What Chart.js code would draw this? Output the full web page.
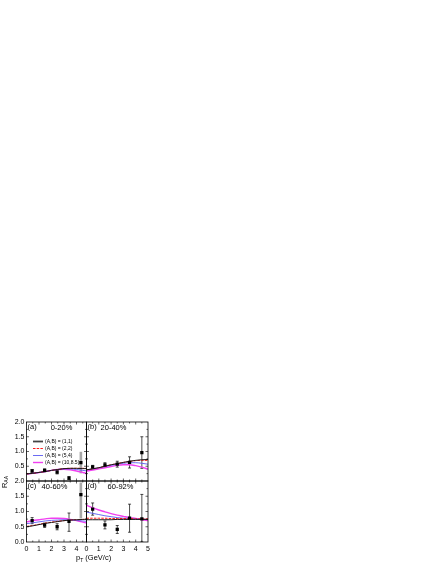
<!DOCTYPE html>
<html>
<head>
<meta charset="utf-8">
<script src="https://cdn.jsdelivr.net/npm/chart.js@4.4.1/dist/chart.umd.min.js"></script>
<style>
  body { margin: 0; background: #fff; width: 436px; height: 564px; overflow: hidden; position: relative; font-family: "Liberation Sans", Arial, sans-serif; }
  #wrap { position: absolute; left: 0; top: 414px; width: 160px; height: 150px; }
  #wrap canvas { position: absolute; left: 0; top: 0; }
  .ttl { position: absolute; font-size: 7.5px; color: #000; white-space: nowrap; line-height: 1; }
  .ttl sub { font-size: 5px; vertical-align: -1.5px; }
  #ytitle { left: 4.5px; top: 482px; transform: translate(-50%, -50%) rotate(-90deg); }
  #xtitle { left: 76px; top: 554px; }
</style>
</head>
<body>
<div id="wrap">
  <canvas id="pa" width="160" height="150"></canvas>
  <canvas id="pb" width="160" height="150"></canvas>
  <canvas id="pc" width="160" height="150"></canvas>
  <canvas id="pd" width="160" height="150"></canvas>
</div>
<div class="ttl" id="ytitle">R<sub>AA</sub></div>
<div class="ttl" id="xtitle">p<sub>T</sub> (GeV/c)</div>

<script>
// 曲线的横坐标 (GeV/c)
const curveX = [0, 0.5, 1, 1.5, 2, 2.5, 3, 3.5, 4, 4.5, 5];
const legendLabels = ['(A,B) = (1,1)', '(A,B) = (2,2)', '(A,B) = (5,4)', '(A,B) = (10,8.5)'];

// (a) 0-20%
const aCurve11  = [0.24, 0.26, 0.29, 0.32, 0.36, 0.39, 0.42, 0.43, 0.43, 0.42, 0.42];
const aCurve22  = [0.24, 0.26, 0.29, 0.32, 0.36, 0.39, 0.42, 0.43, 0.43, 0.43, 0.43];
const aCurve54  = [0.24, 0.26, 0.29, 0.32, 0.36, 0.39, 0.41, 0.41, 0.39, 0.36, 0.33];
const aCurve108 = [0.24, 0.26, 0.29, 0.32, 0.36, 0.39, 0.40, 0.38, 0.34, 0.29, 0.24];
const aPtX  = [0.45, 1.45, 2.45, 3.4, 4.35];
const aPtY  = [0.34, 0.36, 0.30, 0.10, 0.62];
const aErrHi = [0.05, 0.05, 0.06, 0.05, 0.37];
const aErrLo = [0.05, 0.05, 0.06, 0.05, 0.36];

// (b) 20-40%
const bCurve11  = [0.38, 0.41, 0.45, 0.50, 0.55, 0.59, 0.63, 0.67, 0.70, 0.72, 0.73];
const bCurve22  = [0.38, 0.41, 0.45, 0.50, 0.55, 0.59, 0.63, 0.66, 0.69, 0.70, 0.70];
const bCurve54  = [0.38, 0.41, 0.45, 0.49, 0.53, 0.57, 0.60, 0.62, 0.62, 0.60, 0.57];
const bCurve108 = [0.34, 0.37, 0.41, 0.45, 0.49, 0.53, 0.55, 0.55, 0.52, 0.47, 0.40];
const bPtX  = [0.5, 1.5, 2.5, 3.5, 4.5];
const bPtY  = [0.48, 0.55, 0.57, 0.63, 0.96];
const bErrHi = [0.05, 0.07, 0.10, 0.19, 0.54];
const bErrLo = [0.05, 0.07, 0.10, 0.19, 0.53];

// (c) 40-60%
const cCurve11  = [0.50, 0.53, 0.57, 0.61, 0.64, 0.67, 0.70, 0.72, 0.73, 0.74, 0.75];
const cCurve22  = [0.51, 0.54, 0.58, 0.62, 0.65, 0.68, 0.70, 0.72, 0.73, 0.74, 0.75];
const cCurve54  = [0.60, 0.63, 0.66, 0.69, 0.71, 0.72, 0.73, 0.72, 0.71, 0.69, 0.67];
const cCurve108 = [0.66, 0.70, 0.73, 0.76, 0.78, 0.78, 0.77, 0.74, 0.70, 0.65, 0.60];
const cPtX  = [0.45, 1.45, 2.45, 3.4, 4.35];
const cPtY  = [0.70, 0.55, 0.50, 0.68, 1.55];
const cErrHi = [0.10, 0.07, 0.10, 0.27, 0.40];
const cErrLo = [0.10, 0.07, 0.10, 0.33, 0.78];

// (d) 60-92%
const dCurve11  = [0.73, 0.73, 0.73, 0.73, 0.73, 0.74, 0.74, 0.74, 0.74, 0.74, 0.74];
const dCurve22  = [0.78, 0.78, 0.78, 0.78, 0.77, 0.77, 0.77, 0.77, 0.76, 0.76, 0.76];
const dCurve54  = [0.98, 0.94, 0.90, 0.86, 0.83, 0.80, 0.78, 0.77, 0.76, 0.75, 0.74];
const dCurve108 = [1.20, 1.12, 1.05, 0.99, 0.93, 0.88, 0.84, 0.80, 0.77, 0.73, 0.70];
const dPtX  = [0.5, 1.5, 2.5, 3.5, 4.5];
const dPtY  = [1.08, 0.56, 0.41, 0.78, 0.76];
const dErrHi = [0.20, 0.13, 0.13, 0.46, 0.80];
const dErrLo = [0.20, 0.13, 0.13, 0.46, 0.76];

// 线型
const FONT = '"Liberation Sans", Arial, sans-serif';
const lineColors = ['#1c1c1c', '#ff1a1a', '#5a5af2', '#f040f0'];
const lineWidths = [1.0, 1.0, 0.9, 1.4];
const lineDashes = [[], [2.5, 1.2], [], []];

// 误差棒、边框、刻度、标签
const panelDeco = {
  id: 'panelDeco',
  beforeDatasetsDraw(chart) {
    const ctx = chart.ctx, area = chart.chartArea;
    const xs = chart.scales.x, ys = chart.scales.y;
    const ds = chart.data.datasets[0];
    ctx.save();
    ctx.beginPath();
    ctx.rect(area.left, area.top, area.right - area.left, area.bottom - area.top);
    ctx.clip();
    ds.data.forEach((pt, i) => {
      const px = xs.getPixelForValue(pt.x);
      const top = ys.getPixelForValue(pt.y + ds.errHi[i]);
      const bot = ys.getPixelForValue(pt.y - ds.errLo[i]);
      if (i === ds.greyIdx) {
        ctx.fillStyle = '#a8a8a8';
        ctx.fillRect(px - 1.3, top, 2.6, bot - top);
      } else {
        ctx.strokeStyle = '#000';
        ctx.lineWidth = 0.7;
        ctx.beginPath();
        ctx.moveTo(px, top); ctx.lineTo(px, bot);
        ctx.moveTo(px - 1.5, top); ctx.lineTo(px + 1.5, top);
        ctx.moveTo(px - 1.5, bot); ctx.lineTo(px + 1.5, bot);
        ctx.stroke();
      }
    });
    ctx.restore();
  },
  afterDraw(chart) {
    const opts = chart.options.plugins.panelDeco;
    const ctx = chart.ctx, a = chart.chartArea;
    const xs = chart.scales.x, ys = chart.scales.y;
    ctx.save();
    ctx.strokeStyle = '#000';
    ctx.lineWidth = 0.8;
    ctx.strokeRect(a.left, a.top, a.right - a.left, a.bottom - a.top);
    ctx.lineWidth = 0.6;
    ctx.beginPath();
    for (let v = 0.5; v < xs.max - 0.01; v += 0.5) {
      const px = xs.getPixelForValue(v);
      const len = Math.abs(v % 1) < 1e-6 ? 2.5 : 1.5;
      ctx.moveTo(px, a.bottom); ctx.lineTo(px, a.bottom - len);
      ctx.moveTo(px, a.top); ctx.lineTo(px, a.top + len);
    }
    for (let v = 0.25; v < ys.max - 0.01; v += 0.25) {
      const py = ys.getPixelForValue(v);
      const len = Math.abs(v % 0.5) < 1e-6 ? 2.5 : 1.5;
      ctx.moveTo(a.left, py); ctx.lineTo(a.left + len, py);
      ctx.moveTo(a.right, py); ctx.lineTo(a.right - len, py);
    }
    ctx.stroke();

    ctx.fillStyle = '#000';
    ctx.textBaseline = 'middle';
    ctx.font = '7.5px ' + FONT;
    ctx.textAlign = 'left';
    ctx.fillText(opts.tag, a.left + 1, a.top + 4.5);
    ctx.textAlign = 'center';
    ctx.fillText(opts.cent, a.left + opts.centX, a.top + 6);

    if (opts.legend) {
      ctx.textAlign = 'left';
      ctx.font = '5px ' + FONT;
      legendLabels.forEach((txt, i) => {
        const y = Math.round(a.top + 18.5 + i * 7) + 0.5;
        ctx.strokeStyle = i === 0 ? '#444' : lineColors[i];
        ctx.lineWidth = lineWidths[i] + (i === 0 ? 0.8 : 0);
        ctx.setLineDash(lineDashes[i]);
        ctx.beginPath();
        ctx.moveTo(a.left + 6.5, y); ctx.lineTo(a.left + 16.5, y);
        ctx.stroke();
        ctx.setLineDash([]);
        ctx.fillStyle = '#000';
        ctx.fillText(txt, a.left + 18.5, y);
      });
    }
    ctx.restore();
  }
};

function makePanel(id, p) {
  const datasets = [{
    data: p.ptX.map((x, i) => ({ x, y: p.ptY[i] })),
    errHi: p.errHi, errLo: p.errLo, greyIdx: p.greyIdx,
    showLine: false,
    pointStyle: 'rect',
    pointRadius: 2.3,
    pointBackgroundColor: '#000',
    pointBorderWidth: 0
  }];
  p.curves.forEach((ys, i) => {
    datasets.push({
      data: ys.map((y, k) => ({ x: curveX[k], y })),
      borderColor: lineColors[i],
      borderWidth: lineWidths[i],
      borderDash: lineDashes[i],
      pointRadius: 0,
      cubicInterpolationMode: 'monotone',
      fill: false
    });
  });

  const tickFont = { size: 7, family: FONT };
  const xScale = {
    type: 'linear', min: 0, max: p.xMax, display: p.showX,
    grid: { display: false, drawTicks: false }, border: { display: false },
    ticks: {
      stepSize: 1, autoSkip: false, maxRotation: 0, includeBounds: false,
      padding: 3, color: '#000', font: tickFont,
      callback: v => (Number.isInteger(v) && v <= 5) ? String(v) : ''
    }
  };
  if (p.showX) xScale.afterFit = s => { s.height = 12; };
  const yScale = {
    type: 'linear', min: 0, max: 2, display: p.showY,
    grid: { display: false, drawTicks: false }, border: { display: false },
    ticks: {
      stepSize: 0.5, autoSkip: false, padding: 2, color: '#000', font: tickFont,
      callback: v => (p.hideZero && v === 0) ? '' : v.toFixed(1)
    }
  };
  if (p.showY) yScale.afterFit = s => { s.width = 26.5; };

  new Chart(document.getElementById(id), {
    type: 'line',
    data: { datasets },
    options: {
      responsive: false,
      animation: false,
      events: [],
      layout: { padding: p.pad },
      plugins: {
        legend: { display: false },
        tooltip: { enabled: false },
        panelDeco: { tag: p.tag, cent: p.cent, centX: p.centX, legend: p.legend }
      },
      scales: { x: xScale, y: yScale }
    },
    plugins: [panelDeco]
  });
}

makePanel('pa', {
  curves: [aCurve11, aCurve22, aCurve54, aCurve108],
  ptX: aPtX, ptY: aPtY, errHi: aErrHi, errLo: aErrLo, greyIdx: 4,
  tag: '(a)', cent: '0-20%', centX: 35, legend: true,
  xMax: 4.8, showX: false, showY: true, hideZero: true,
  pad: { left: 0, right: 73.5, top: 8, bottom: 83 }
});
makePanel('pb', {
  curves: [bCurve11, bCurve22, bCurve54, bCurve108],
  ptX: bPtX, ptY: bPtY, errHi: bErrHi, errLo: bErrLo, greyIdx: -1,
  tag: '(b)', cent: '20-40%', centX: 27, legend: false,
  xMax: 5, showX: false, showY: false,
  pad: { left: 86.5, right: 12, top: 8, bottom: 83 }
});
makePanel('pc', {
  curves: [cCurve11, cCurve22, cCurve54, cCurve108],
  ptX: cPtX, ptY: cPtY, errHi: cErrHi, errLo: cErrLo, greyIdx: 4,
  tag: '(c)', cent: '40-60%', centX: 28, legend: false,
  xMax: 4.8, showX: true, showY: true, hideZero: false,
  pad: { left: 0, right: 73.5, top: 67, bottom: 10 }
});
makePanel('pd', {
  curves: [dCurve11, dCurve22, dCurve54, dCurve108],
  ptX: dPtX, ptY: dPtY, errHi: dErrHi, errLo: dErrLo, greyIdx: -1,
  tag: '(d)', cent: '60-92%', centX: 34, legend: false,
  xMax: 5, showX: true, showY: false,
  pad: { left: 86.5, right: 12, top: 67, bottom: 10 }
});
</script>
</body>
</html>
